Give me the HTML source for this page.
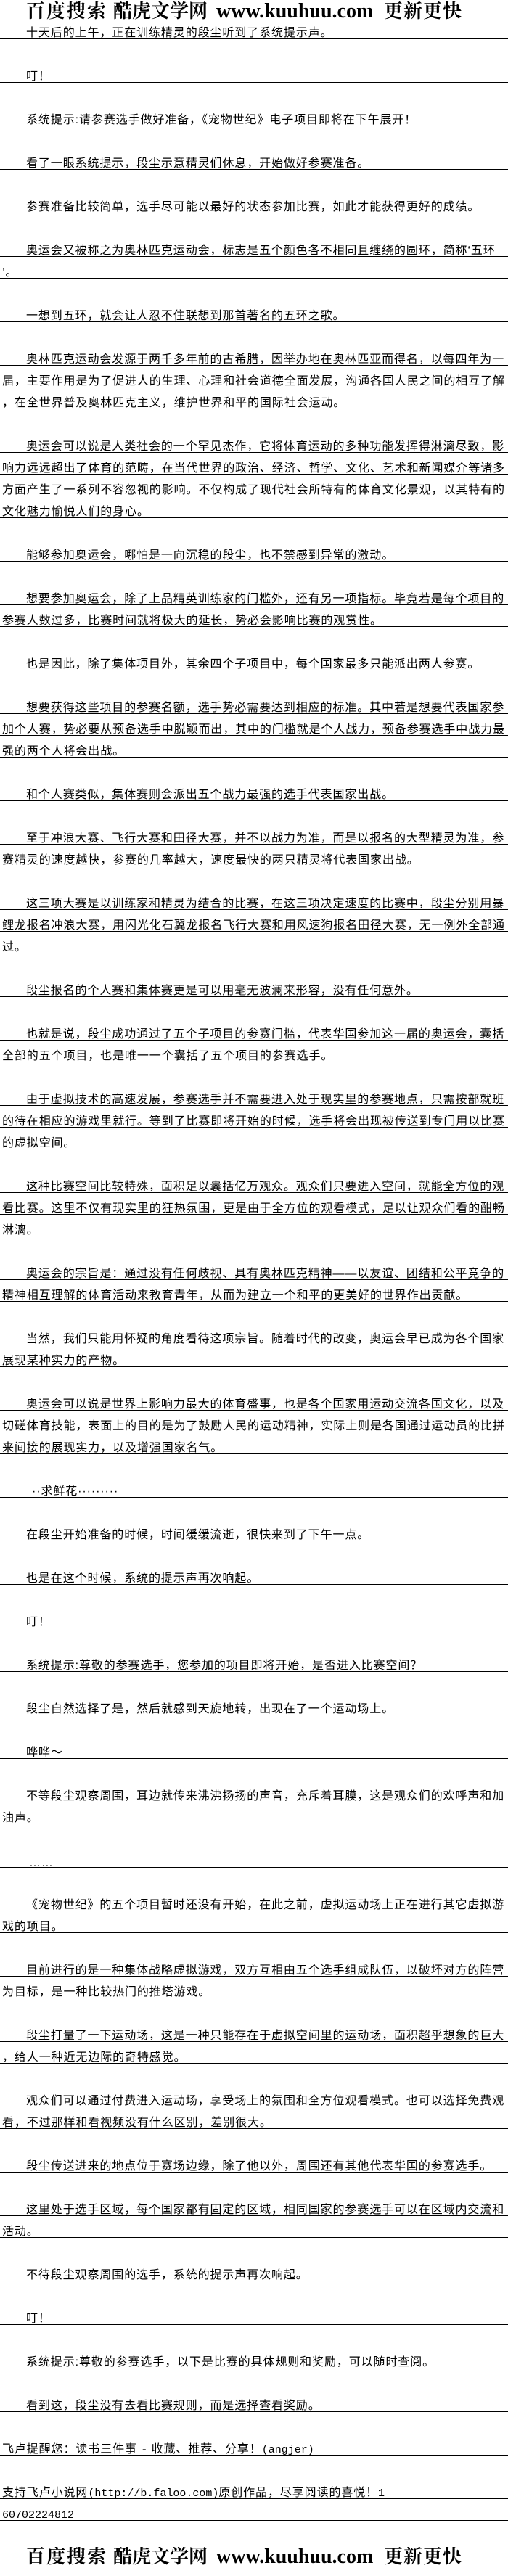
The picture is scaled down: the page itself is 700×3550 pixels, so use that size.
<!DOCTYPE html>
<html><head><meta charset="utf-8">
<style>
html,body{margin:0;padding:0;background:#fff;}
body{width:700px;height:3550px;position:relative;overflow:hidden;font-family:"Liberation Sans","Noto Sans CJK SC",sans-serif;color:#000;}
.hdr{position:absolute;left:0;width:700px;height:34px;font-family:"Liberation Serif","Noto Serif CJK SC",serif;font-weight:bold;font-size:28px;line-height:28px;white-space:nowrap;}
.hdr span{position:absolute;top:0;overflow:hidden;}
.hdr .c{font-size:26px;}
#main{position:absolute;left:0;top:24px;width:700px;}
.l{height:15px;padding-top:14px;border-bottom:1px solid #000;font-size:16px;line-height:16px;letter-spacing:0.9px;white-space:pre;padding-left:3px;overflow:hidden;}
.i{padding-left:36px;}
.b{height:30px;}
.m{font-family:"Liberation Mono","Noto Sans CJK SC",monospace;letter-spacing:0;font-size:15px;}
</style></head><body>
<div class="hdr" style="top:2px"><span class="c" style="left:36px;width:116px;letter-spacing:2px">百度搜索</span><span class="c" style="left:156px;width:136px">酷虎文学网</span><span style="left:298px">www.kuuhuu.com</span><span class="c" style="left:529px;letter-spacing:1px">更新更快</span></div>
<div id="main">
<div class="l i">十天后的上午，正在训练精灵的段尘听到了系统提示声。</div><div class="b"></div>
<div class="l i">叮！</div><div class="b"></div>
<div class="l i">系统提示:请参赛选手做好准备，《宠物世纪》电子项目即将在下午展开！</div><div class="b"></div>
<div class="l i">看了一眼系统提示，段尘示意精灵们休息，开始做好参赛准备。</div><div class="b"></div>
<div class="l i">参赛准备比较简单，选手尽可能以最好的状态参加比赛，如此才能获得更好的成绩。</div><div class="b"></div>
<div class="l i">奥运会又被称之为奥林匹克运动会，标志是五个颜色各不相同且缠绕的圆环，简称‘五环</div>
<div class="l">’。</div><div class="b"></div>
<div class="l i">一想到五环，就会让人忍不住联想到那首著名的五环之歌。</div><div class="b"></div>
<div class="l i">奥林匹克运动会发源于两千多年前的古希腊，因举办地在奥林匹亚而得名，以每四年为一</div>
<div class="l">届，主要作用是为了促进人的生理、心理和社会道德全面发展，沟通各国人民之间的相互了解</div>
<div class="l">，在全世界普及奥林匹克主义，维护世界和平的国际社会运动。</div><div class="b"></div>
<div class="l i">奥运会可以说是人类社会的一个罕见杰作，它将体育运动的多种功能发挥得淋漓尽致，影</div>
<div class="l">响力远远超出了体育的范畴，在当代世界的政治、经济、哲学、文化、艺术和新闻媒介等诸多</div>
<div class="l">方面产生了一系列不容忽视的影响。不仅构成了现代社会所特有的体育文化景观，以其特有的</div>
<div class="l">文化魅力愉悦人们的身心。</div><div class="b"></div>
<div class="l i">能够参加奥运会，哪怕是一向沉稳的段尘，也不禁感到异常的激动。</div><div class="b"></div>
<div class="l i">想要参加奥运会，除了上品精英训练家的门槛外，还有另一项指标。毕竟若是每个项目的</div>
<div class="l">参赛人数过多，比赛时间就将极大的延长，势必会影响比赛的观赏性。</div><div class="b"></div>
<div class="l i">也是因此，除了集体项目外，其余四个子项目中，每个国家最多只能派出两人参赛。</div><div class="b"></div>
<div class="l i">想要获得这些项目的参赛名额，选手势必需要达到相应的标准。其中若是想要代表国家参</div>
<div class="l">加个人赛，势必要从预备选手中脱颖而出，其中的门槛就是个人战力，预备参赛选手中战力最</div>
<div class="l">强的两个人将会出战。</div><div class="b"></div>
<div class="l i">和个人赛类似，集体赛则会派出五个战力最强的选手代表国家出战。</div><div class="b"></div>
<div class="l i">至于冲浪大赛、飞行大赛和田径大赛，并不以战力为准，而是以报名的大型精灵为准，参</div>
<div class="l">赛精灵的速度越快，参赛的几率越大，速度最快的两只精灵将代表国家出战。</div><div class="b"></div>
<div class="l i">这三项大赛是以训练家和精灵为结合的比赛，在这三项决定速度的比赛中，段尘分别用暴</div>
<div class="l">鲤龙报名冲浪大赛，用闪光化石翼龙报名飞行大赛和用风速狗报名田径大赛，无一例外全部通</div>
<div class="l">过。</div><div class="b"></div>
<div class="l i">段尘报名的个人赛和集体赛更是可以用毫无波澜来形容，没有任何意外。</div><div class="b"></div>
<div class="l i">也就是说，段尘成功通过了五个子项目的参赛门槛，代表华国参加这一届的奥运会，囊括</div>
<div class="l">全部的五个项目，也是唯一一个囊括了五个项目的参赛选手。</div><div class="b"></div>
<div class="l i">由于虚拟技术的高速发展，参赛选手并不需要进入处于现实里的参赛地点，只需按部就班</div>
<div class="l">的待在相应的游戏里就行。等到了比赛即将开始的时候，选手将会出现被传送到专门用以比赛</div>
<div class="l">的虚拟空间。</div><div class="b"></div>
<div class="l i">这种比赛空间比较特殊，面积足以囊括亿万观众。观众们只要进入空间，就能全方位的观</div>
<div class="l">看比赛。这里不仅有现实里的狂热氛围，更是由于全方位的观看模式，足以让观众们看的酣畅</div>
<div class="l">淋漓。</div><div class="b"></div>
<div class="l i">奥运会的宗旨是：通过没有任何歧视、具有奥林匹克精神——以友谊、团结和公平竞争的</div>
<div class="l">精神相互理解的体育活动来教育青年，从而为建立一个和平的更美好的世界作出贡献。</div><div class="b"></div>
<div class="l i">当然，我们只能用怀疑的角度看待这项宗旨。随着时代的改变，奥运会早已成为各个国家</div>
<div class="l">展现某种实力的产物。</div><div class="b"></div>
<div class="l i">奥运会可以说是世界上影响力最大的体育盛事，也是各个国家用运动交流各国文化，以及</div>
<div class="l">切磋体育技能，表面上的目的是为了鼓励人民的运动精神，实际上则是各国通过运动员的比拼</div>
<div class="l">来间接的展现实力，以及增强国家名气。</div><div class="b"></div>
<div class="l" style="padding-left:44px">··求鲜花·········</div><div class="b"></div>
<div class="l i">在段尘开始准备的时候，时间缓缓流逝，很快来到了下午一点。</div><div class="b"></div>
<div class="l i">也是在这个时候，系统的提示声再次响起。</div><div class="b"></div>
<div class="l i">叮！</div><div class="b"></div>
<div class="l i">系统提示:尊敬的参赛选手，您参加的项目即将开始，是否进入比赛空间？</div><div class="b"></div>
<div class="l i">段尘自然选择了是，然后就感到天旋地转，出现在了一个运动场上。</div><div class="b"></div>
<div class="l i">哗哗～</div><div class="b"></div>
<div class="l i">不等段尘观察周围，耳边就传来沸沸扬扬的声音，充斥着耳膜，这是观众们的欢呼声和加</div>
<div class="l">油声。</div><div class="b"></div>
<div class="l" style="padding-left:40px;padding-top:16px;height:13px">……</div><div class="b"></div>
<div class="l i">《宠物世纪》的五个项目暂时还没有开始，在此之前，虚拟运动场上正在进行其它虚拟游</div>
<div class="l">戏的项目。</div><div class="b"></div>
<div class="l i">目前进行的是一种集体战略虚拟游戏，双方互相由五个选手组成队伍，以破坏对方的阵营</div>
<div class="l">为目标，是一种比较热门的推塔游戏。</div><div class="b"></div>
<div class="l i">段尘打量了一下运动场，这是一种只能存在于虚拟空间里的运动场，面积超乎想象的巨大</div>
<div class="l">，给人一种近无边际的奇特感觉。</div><div class="b"></div>
<div class="l i">观众们可以通过付费进入运动场，享受场上的氛围和全方位观看模式。也可以选择免费观</div>
<div class="l">看，不过那样和看视频没有什么区别，差别很大。</div><div class="b"></div>
<div class="l i">段尘传送进来的地点位于赛场边缘，除了他以外，周围还有其他代表华国的参赛选手。</div><div class="b"></div>
<div class="l i">这里处于选手区域，每个国家都有固定的区域，相同国家的参赛选手可以在区域内交流和</div>
<div class="l">活动。</div><div class="b"></div>
<div class="l i">不待段尘观察周围的选手，系统的提示声再次响起。</div><div class="b"></div>
<div class="l i">叮！</div><div class="b"></div>
<div class="l i">系统提示:尊敬的参赛选手，以下是比赛的具体规则和奖励，可以随时查阅。</div><div class="b"></div>
<div class="l i">看到这，段尘没有去看比赛规则，而是选择查看奖励。</div><div class="b"></div>
<div class="l">飞卢提醒您：读书三件事 <span class="m">-</span> 收藏、推荐、分享！<span class="m">(angjer)</span></div><div class="b"></div>
<div class="l">支持飞卢小说网<span class="m">(http://b.faloo.com)</span>原创作品，尽享阅读的喜悦！<span class="m">1</span></div>
<div class="l"><span class="m">60702224812</span></div>
</div>
<div class="hdr" style="top:3510px"><span class="c" style="left:36px;width:116px;letter-spacing:2px">百度搜索</span><span class="c" style="left:156px;width:136px">酷虎文学网</span><span style="left:298px">www.kuuhuu.com</span><span class="c" style="left:529px;letter-spacing:1px">更新更快</span></div>
</body></html>
